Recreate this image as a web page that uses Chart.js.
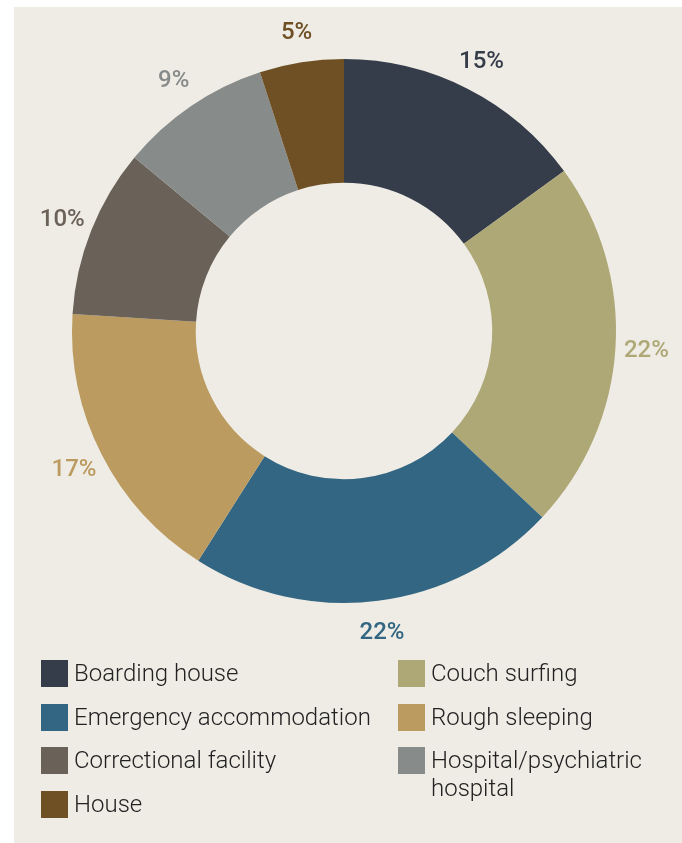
<!DOCTYPE html>
<html>
<head>
<meta charset="utf-8">
<script src="https://cdn.jsdelivr.net/npm/chart.js@4/dist/chart.umd.min.js"></script>
<style>
  html, body { margin: 0; padding: 0; background: #ffffff; }
  body { width: 682px; height: 843px; position: relative; overflow: hidden; font-family: Roboto, "Noto Sans", sans-serif; }
  #panel { position: absolute; left: 14px; top: 7px; right: 0; bottom: 0; background: #efece6; }
  #chart { position: absolute; left: 0; top: 0; }
  #legend { position: absolute; left: 0; top: 0; width: 682px; height: 843px; pointer-events: none; }
  .item { position: absolute; display: flex; align-items: flex-start; }
  .swatch { width: 27px; height: 27px; flex: none; }
  .text { margin-left: 6px; font-size: 24px; font-weight: 300; color: #222222; line-height: 28px; margin-top: -1px; }
</style>
</head>
<body>
<div id="panel"></div>
<canvas id="chart" width="682" height="640"></canvas>
<div id="legend"></div>
<script>
// Where people were living, share of total (%)
const categories = [
  'Boarding house',
  'Couch surfing',
  'Emergency accommodation',
  'Rough sleeping',
  'Correctional facility',
  'Hospital/psychiatric hospital',
  'House'
];
const shares = [15, 22, 22, 17, 10, 9, 5];
const sliceColors = ['#363d4a', '#aea776', '#336682', '#bb9b5f', '#6a6158', '#878b8a', '#6e5024'];
// Legend reading order: left column then right column, row by row
const legendOrder = [0, 1, 2, 3, 4, 5, 6];
const legendLines = {
  'Hospital/psychiatric hospital': ['Hospital/psychiatric', 'hospital']
};

// Percent labels centred on a ring just outside the doughnut, at each slice's mid-angle
const outsideLabels = {
  id: 'outsideLabels',
  afterDatasetsDraw(chart) {
    const ctx = chart.ctx;
    const meta = chart.getDatasetMeta(0);
    const data = chart.data.datasets[0].data;
    ctx.save();
    ctx.font = '500 24px Roboto';
    ctx.textAlign = 'center';
    ctx.textBaseline = 'middle';
    meta.data.forEach((arc, i) => {
      const p = arc.getProps(['x', 'y', 'startAngle', 'endAngle', 'outerRadius'], true);
      const a = (p.startAngle + p.endAngle) / 2;
      const r = p.outerRadius + 31;
      ctx.fillStyle = sliceColors[i];
      ctx.fillText(data[i] + '%', p.x + Math.cos(a) * r, p.y + Math.sin(a) * r + 1);
    });
    ctx.restore();
  }
};

new Chart(document.getElementById('chart'), {
  type: 'doughnut',
  data: {
    labels: categories,
    datasets: [{
      data: shares,
      backgroundColor: sliceColors,
      borderWidth: 0,
      hoverOffset: 0
    }]
  },
  options: {
    responsive: false,
    animation: false,
    cutout: '54.5%',
    layout: { padding: { left: 72, right: 66, top: 59, bottom: 37 } },
    plugins: {
      legend: { display: false },
      tooltip: { enabled: false }
    }
  },
  plugins: [outsideLabels]
});

// Two-column legend built from the same category and colour arrays
(function buildLegend() {
  const box = document.getElementById('legend');
  const colX = [41, 398];
  const rowY = [660, 704, 747, 791];
  legendOrder.forEach((idx, n) => {
    const col = n % 2;
    const row = Math.floor(n / 2);
    const item = document.createElement('div');
    item.className = 'item';
    item.style.left = colX[col] + 'px';
    item.style.top = rowY[row] + 'px';
    const sw = document.createElement('div');
    sw.className = 'swatch';
    sw.style.background = sliceColors[idx];
    const tx = document.createElement('div');
    tx.className = 'text';
    const lines = legendLines[categories[idx]] || [categories[idx]];
    tx.innerHTML = lines.map(s => s.replace(/&/g, '&amp;').replace(/</g, '&lt;')).join('<br>');
    item.appendChild(sw);
    item.appendChild(tx);
    box.appendChild(item);
  });
})();
</script>
</body>
</html>
